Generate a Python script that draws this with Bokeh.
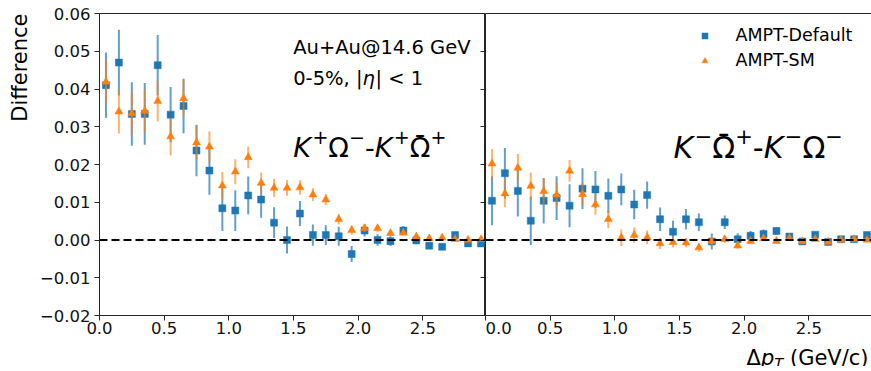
import math
from bokeh.plotting import figure
from bokeh.layouts import row, column
from bokeh.models import (ColumnDataSource, Span, Label, Legend, LegendItem, LinearAxis,
                          FixedTicker, CustomJSTickFormatter, Range1d)
from bokeh.embed import file_html
from bokeh.resources import INLINE

# ---------------- data ----------------
pt_bins = [0.05, 0.15, 0.25, 0.35, 0.45, 0.55, 0.65, 0.75, 0.85, 0.95,
           1.05, 1.15, 1.25, 1.35, 1.45, 1.55, 1.65, 1.75, 1.85, 1.95,
           2.05, 2.15, 2.25, 2.35, 2.45, 2.55, 2.65, 2.75, 2.85, 2.95]

# K+Omega- minus K+anti-Omega+
left_default = [0.0410, 0.0470, 0.0334, 0.0334, 0.0463, 0.0332, 0.0355, 0.0237, 0.0184, 0.0084,
                0.0078, 0.0118, 0.0107, 0.0046, 0.0000, 0.0070, 0.0013, 0.0013, 0.0010, -0.0037,
                0.0025, 0.0000, -0.0003, 0.0025, -0.0001, -0.0015, -0.0018, 0.0013, -0.0009, -0.0009]
left_default_err = [0.0087, 0.0087, 0.0084, 0.0082, 0.0080, 0.0073, 0.0072, 0.0068, 0.0064, 0.0060,
                    0.0054, 0.0050, 0.0048, 0.0041, 0.0036, 0.0033, 0.0028, 0.0026, 0.0025, 0.0021,
                    0.0016, 0.0015, 0.0013, 0.0012, 0.0010, 0.0009, 0.0008, 0.0007, 0.0006, 0.0006]
left_sm = [0.0419, 0.0340, 0.0335, 0.0342, 0.0368, 0.0274, 0.0375, 0.0258, 0.0247, 0.0144,
           0.0181, 0.0219, 0.0151, 0.0138, 0.0138, 0.0139, 0.0120, 0.0107, 0.0055, 0.0026,
           0.0031, 0.0031, 0.0018, 0.0019, 0.0009, 0.0004, 0.0006, 0.0002, 0.0000, 0.0002]
left_sm_err = [0.0058, 0.0058, 0.0057, 0.0056, 0.0054, 0.0050, 0.0048, 0.0045, 0.0041, 0.0036,
               0.0033, 0.0029, 0.0028, 0.0024, 0.0021, 0.0019, 0.0017, 0.0015, 0.0013, 0.0012,
               0.0010, 0.0009, 0.0008, 0.0007, 0.0006, 0.0006, 0.0005, 0.0005, 0.0004, 0.0004]

# K-anti-Omega+ minus K-Omega-
right_default = [0.0104, 0.0177, 0.0130, 0.0051, 0.0104, 0.0111, 0.0091, 0.0136, 0.0134, 0.0117,
                 0.0134, 0.0094, 0.0119, 0.0055, 0.0022, 0.0055, 0.0047, -0.0004, 0.0047, 0.0002,
                 0.0011, 0.0016, 0.0024, 0.0009, -0.0004, 0.0014, -0.0005, 0.0002, 0.0002, 0.0013]
right_default_err = [0.0065, 0.0067, 0.0068, 0.0064, 0.0060, 0.0058, 0.0057, 0.0054, 0.0049, 0.0046,
                     0.0042, 0.0039, 0.0036, 0.0031, 0.0029, 0.0027, 0.0023, 0.0021, 0.0018, 0.0016,
                     0.0013, 0.0012, 0.0010, 0.0009, 0.0008, 0.0007, 0.0006, 0.0005, 0.0005, 0.0004]
right_sm = [0.0202, 0.0123, 0.0191, 0.0143, 0.0129, 0.0120, 0.0183, 0.0121, 0.0094, 0.0055,
            0.0006, 0.0013, 0.0007, -0.0009, -0.0006, -0.0007, -0.0020, -0.0003, 0.0002, -0.0015,
            -0.0003, 0.0004, -0.0003, 0.0005, -0.0004, 0.0002, -0.0005, 0.0000, 0.0002, 0.0000]
right_sm_err = [0.0039, 0.0036, 0.0037, 0.0036, 0.0035, 0.0033, 0.0029, 0.0030, 0.0027, 0.0024,
                0.0022, 0.0020, 0.0018, 0.0015, 0.0014, 0.0012, 0.0011, 0.0010, 0.0009, 0.0008,
                0.0007, 0.0006, 0.0006, 0.0005, 0.0005, 0.0004, 0.0004, 0.0004, 0.0003, 0.0003]

series_names = ["AMPT-Default", "AMPT-SM"]
x_ticks = [0.0, 0.5, 1.0, 1.5, 2.0, 2.5]
y_ticks = [-0.02, -0.01, 0.0, 0.01, 0.02, 0.03, 0.04, 0.05, 0.06]

BLUE = "#1f77b4"
ORANGE = "#ff7f0e"
FONT = "DejaVu Sans"
AXC = "#262626"

# approximate DejaVu Sans advance widths (em)
ADV = {"K": 0.656, "Ω": 0.764, "+": 0.838, "−": 0.838, "-": 0.361, "Δ": 0.684, "p": 0.635,
       "T": 0.611, "η": 0.634, "|": 0.337, "<": 0.838, "1": 0.636, " ": 0.318, "(": 0.39,
       ")": 0.39, "G": 0.775, "e": 0.615, "V": 0.684, "/": 0.337, "c": 0.55, "0": 0.636,
       "5": 0.636, "%": 0.95, ",": 0.318, "¯": 0.5}


def text_width(s, size):
    return sum(ADV.get(ch, 0.6) for ch in s) * size


def lbl(fig, x, y, txt, size, italic=False, **kw):
    fig.add_layout(Label(x=x, y=y, x_units=kw.pop("x_units", "screen"),
                         y_units=kw.pop("y_units", "screen"), text=txt,
                         text_font=FONT, text_font_size=f"{size}px",
                         text_font_style="italic" if italic else "normal",
                         text_color=kw.pop("color", "black"),
                         text_align=kw.pop("align", "left"),
                         text_baseline=kw.pop("baseline", "alphabetic"), **kw))


def add_pieces(fig, x0, y0, pieces, **kw):
    """pieces: (text, size_px, italic, dy_px, extra_after_px); returns x of each piece"""
    x = x0
    xs = []
    for txt, size, italic, dy, extra in pieces:
        if kw.get("y_units") == "data":
            lbl(fig, x, y0, txt, size, italic, y_offset=dy, **kw)
        else:
            lbl(fig, x, y0 + dy, txt, size, italic, **kw)
        xs.append(x)
        x += text_width(txt, size) + extra
    return xs


def make_fig(left):
    p = figure(frame_width=386, frame_height=302, x_range=(0, 2.985), y_range=(-0.02, 0.06),
               output_backend="svg", toolbar_location=None,
               y_axis_location="left" if left else None,
               min_border_left=61 if left else 0, min_border_right=0 if left else 2,
               min_border_top=13, min_border_bottom=27)
    p.xgrid.visible = False
    p.ygrid.visible = False
    p.outline_line_color = AXC
    p.outline_line_width = 1
    p.background_fill_color = "white"
    p.border_fill_color = "white"
    for ax in p.xaxis:
        ax.ticker = FixedTicker(ticks=x_ticks, minor_ticks=[])
        ax.formatter = CustomJSTickFormatter(code="return tick.toFixed(1);")
    axes = list(p.xaxis) + (list(p.yaxis) if left else [])
    for ax in axes:
        ax.axis_line_color = AXC
        ax.major_tick_line_color = AXC
        ax.major_tick_out = 5
        ax.major_tick_in = 0
        ax.minor_tick_out = 0
        ax.minor_tick_in = 0
        ax.major_label_text_font = FONT
        ax.major_label_text_font_size = "16.5px"
        ax.major_label_text_color = "#111111"
    for ax in p.xaxis:
        ax.major_label_standoff = 1
    if left:
        for ax in p.yaxis:
            ax.ticker = FixedTicker(ticks=y_ticks, minor_ticks=[])
            ax.formatter = CustomJSTickFormatter(
                code="var s = Math.abs(tick).toFixed(2); return (tick < -1e-9 ? '−' : '') + s;")
            ax.major_label_standoff = 4
    p.add_layout(Span(location=0, dimension="width", line_color="black",
                      line_width=2.2, line_dash="8 4"))
    return p


def blank_fig(**kw):
    p = figure(output_backend="svg", toolbar_location=None,
               x_range=Range1d(0, 1), y_range=Range1d(0, 1),
               x_axis_location=None, y_axis_location=None, **kw)
    p.xgrid.visible = False
    p.ygrid.visible = False
    p.outline_line_color = None
    p.background_fill_color = "white"
    p.border_fill_color = "white"
    return p


def add_series(p, vals, errs, color, marker, size, err_alpha):
    src = ColumnDataSource(dict(x=pt_bins, y=vals,
                                lo=[v - e for v, e in zip(vals, errs)],
                                hi=[v + e for v, e in zip(vals, errs)]))
    p.segment(x0="x", y0="lo", x1="x", y1="hi", source=src, line_color=color,
              line_width=2, line_alpha=err_alpha)
    r = p.scatter(x="x", y="y", source=src, marker=marker, size=size, fill_color=color,
                  line_color=color, line_width=0.5)
    return r


p1 = make_fig(True)
p2 = make_fig(False)

add_series(p1, left_default, left_default_err, BLUE, "square", 7, 0.7)
add_series(p1, left_sm, left_sm_err, ORANGE, "triangle", 8, 0.6)
rb = add_series(p2, right_default, right_default_err, BLUE, "square", 7, 0.7)
ro = add_series(p2, right_sm, right_sm_err, ORANGE, "triangle", 8, 0.6)

# inward ticks on the shared boundary (no labels drawn)
rax = LinearAxis(ticker=FixedTicker(ticks=y_ticks, minor_ticks=[]),
                 major_tick_in=5, major_tick_out=0, minor_tick_in=0, minor_tick_out=0,
                 major_label_text_font_size="0px", major_label_text_color=None,
                 major_label_standoff=0, axis_line_color=AXC, major_tick_line_color=AXC)
p1.add_layout(rax, "right")

# annotation texts in left panel
lbl(p1, 193.7, 268.3, "Au+Au@14.6 GeV", 19.5)
add_pieces(p1, 193.7, 237.3, [("0-5%, |", 19.5, False, 0, 0),
                              ("η", 19.5, True, 0, 0.5),
                              ("| < 1", 19.5, False, 0, 0)])

F, S, R = 27, 19, 10
xs = add_pieces(p1, 193.7, 168.3, [("K", F, True, 0, 1.5), ("+", S, False, R, 0),
                                   ("Ω", F, False, 0, 0), ("−", S, False, R, 0),
                                   ("-", F, False, 0, 0), ("K", F, True, 0, 1.5),
                                   ("+", S, False, R, 0), ("Ω", F, False, 0, 0),
                                   ("+", S, False, R, 0)])
lbl(p1, xs[7] + 3.5, 168.3 + 2, "¯", F)
F2, S2, R2 = 30, 21, 11
xs = add_pieces(p2, 188, 168.3, [("K", F2, True, 0, 1.5), ("−", S2, False, R2, 0),
                                 ("Ω", F2, False, 0, 0), ("+", S2, False, R2, 0),
                                 ("-", F2, False, 0, 0), ("K", F2, True, 0, 1.5),
                                 ("−", S2, False, R2, 0), ("Ω", F2, False, 0, 0),
                                 ("−", S2, False, R2, 0)])
lbl(p2, xs[2] + 4, 168.3 + 2, "¯", F2)

legend = Legend(items=[LegendItem(label=series_names[0], renderers=[rb]),
                       LegendItem(label=series_names[1], renderers=[ro])],
                location=(211.5, 245), orientation="vertical",
                glyph_width=15, glyph_height=15, label_height=20, spacing=5,
                label_standoff=24, padding=0, margin=0,
                border_line_color=None, background_fill_alpha=0,
                label_text_font=FONT, label_text_font_size="17.5px", label_text_color="black")
p2.add_layout(legend)

# y-axis title strip (left): same frame geometry as the panels, label at frame top
p0 = blank_fig(frame_width=36, frame_height=302, min_border_left=0, min_border_right=0,
               min_border_top=13, min_border_bottom=27)
lbl(p0, 19, 1.0, "Difference", 21, y_units="data", angle=math.pi / 2,
    align="right", baseline="middle")

# x-axis title strip (bottom): label hung from the strip's top edge, right-aligned
p3 = blank_fig(frame_width=871, frame_height=24, min_border=0)
XF = 21
XS = 14.7
TOPY = -15.5
label_w = (text_width("Δ", XF) + text_width("p", XF) + text_width("T", XS)
           + text_width(" (GeV/c)", XF))
x_start = 868 - label_w
xs = add_pieces(p3, x_start, 1.0, [("Δ", XF, False, TOPY, 0), ("p", XF, True, TOPY, 0),
                                   ("T", XS, True, TOPY - 4, 0)], y_units="data")
lbl(p3, xs[2] + text_width("T", XS) + text_width(" ", XF), 1.0, "(GeV/c)", XF,
    y_units="data", y_offset=TOPY)

layout = column(row(p0, p1, p2, spacing=0), p3, spacing=0)
open("out.html", "w").write(file_html(layout, INLINE))
